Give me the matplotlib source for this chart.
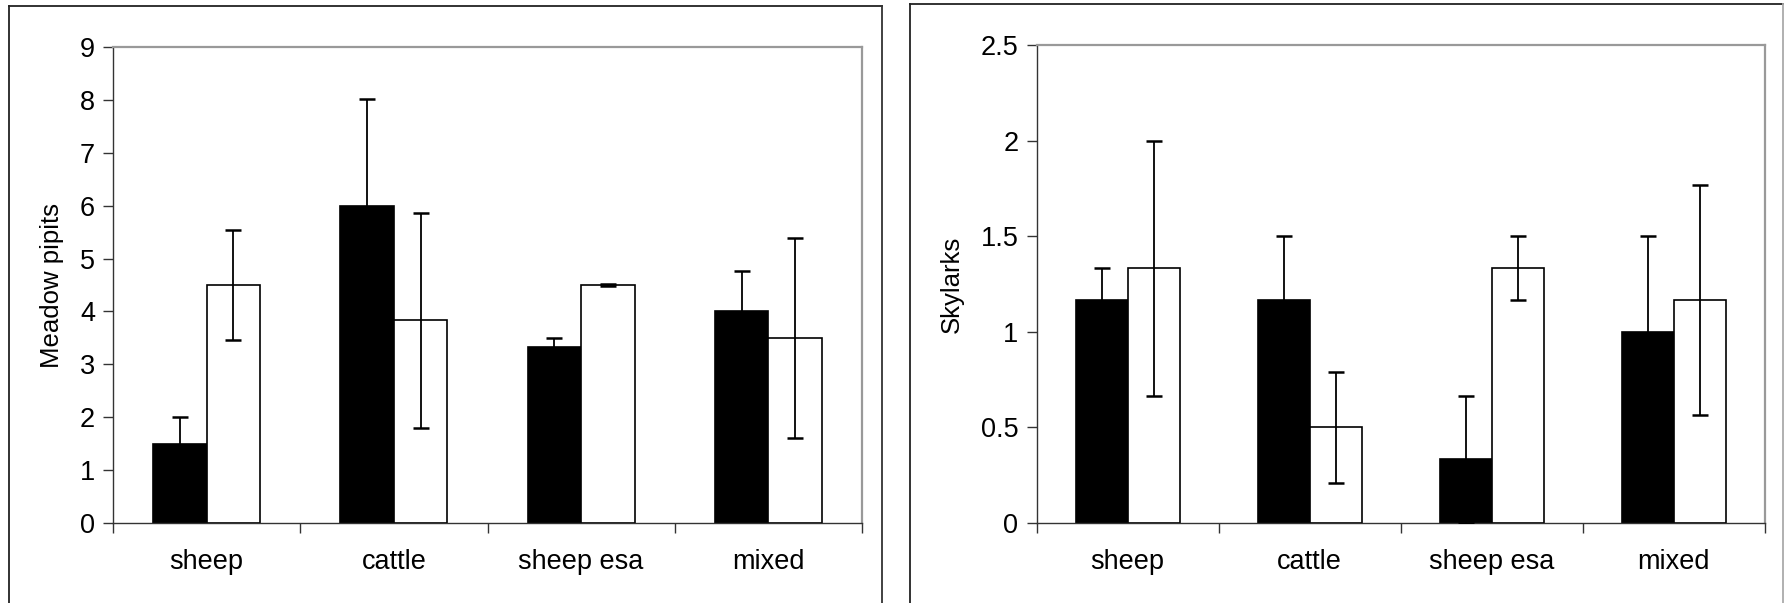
import numpy as np
import matplotlib
matplotlib.use("Agg")
import matplotlib.pyplot as plt
from matplotlib.lines import Line2D
from matplotlib.ticker import FuncFormatter

plt.rcParams['font.family'] = ['Liberation Sans', 'DejaVu Sans']

# ---- datos ----
grupos = ["sheep", "cattle", "sheep esa", "mixed"]

pipits_negro = [1.5, 6.0, 3.33, 4.0]
pipits_negro_err = [0.5, 2.02, 0.17, 0.76]
pipits_blanco = [4.5, 3.83, 4.5, 3.5]
pipits_blanco_err = [1.04, 2.03, 0.02, 1.89]

alondras_negro = [1.167, 1.167, 0.333, 1.0]
alondras_negro_err = [0.167, 0.333, 0.333, 0.5]
alondras_blanco = [1.333, 0.5, 1.333, 1.167]
alondras_blanco_err = [0.667, 0.29, 0.167, 0.6]

W, H = 1785, 603
fig = plt.figure(figsize=(W/100, H/100), dpi=100)


def px(x0, x1, top, bottom):
    # rectangulo en pixeles -> coordenadas de figura
    return [x0/W, (H-bottom)/H, (x1-x0)/W, (bottom-top)/H]


def panel(ax, negro, negro_err, blanco, blanco_err, ymax, ystep, ylabel, label_x):
    n = len(grupos)
    centros = np.arange(n) + 0.5
    ancho = 1/3.5
    ax.bar(centros - ancho/2, negro, ancho, color='black', edgecolor='black', lw=1.2, zorder=2)
    ax.bar(centros + ancho/2, blanco, ancho, color='white', edgecolor='black', lw=1.2, zorder=2)
    ax.errorbar(centros - ancho/2, negro, yerr=negro_err, fmt='none', ecolor='black',
                elinewidth=1.3, capsize=5.5, capthick=1.8, zorder=3)
    ax.errorbar(centros + ancho/2, blanco, yerr=blanco_err, fmt='none', ecolor='black',
                elinewidth=1.3, capsize=5.5, capthick=1.8, zorder=3)

    ax.set_xlim(0, n)
    ax.set_ylim(0, ymax)
    ax.set_yticks(np.arange(0, ymax + ystep/2, ystep))
    ax.yaxis.set_major_formatter(FuncFormatter(lambda v, p: f"{v:g}"))
    ax.set_xticks(np.arange(n + 1))
    ax.set_xticklabels([])
    ax.set_xticks(centros, minor=True)
    ax.set_xticklabels(grupos, minor=True)
    ax.tick_params(axis='x', which='minor', length=0, pad=19, labelsize=19.5)
    ax.tick_params(axis='x', which='major', direction='out', length=7, width=1, color='#333333')
    ax.tick_params(axis='y', direction='out', length=7, width=1, color='#333333', pad=6, labelsize=19.5)

    for s in ['top', 'right']:
        ax.spines[s].set_color('#999999')
        ax.spines[s].set_linewidth(1.6)
    for s in ['left', 'bottom']:
        ax.spines[s].set_color('#333333')
        ax.spines[s].set_linewidth(1.0)

    ax.set_ylabel(ylabel, fontsize=18.5)
    ax.yaxis.set_label_coords(label_x, 0.5)


ax1 = fig.add_axes(px(113, 862, 47, 523))
panel(ax1, pipits_negro, pipits_negro_err, pipits_blanco, pipits_blanco_err,
      9, 1, "Meadow pipits", -0.066)

ax2 = fig.add_axes(px(1036.5, 1765, 45, 523))
panel(ax2, alondras_negro, alondras_negro_err, alondras_blanco, alondras_blanco_err,
      2.5, 0.5, "Skylarks", -0.1)

# marcos de cada grafico
def marco(x0, x1, top, color_der):
    X0, X1 = x0/W, x1/W
    Y = (H-top)/H
    fig.add_artist(Line2D([X0, X0], [0, Y], color='#222222', lw=1.3))
    fig.add_artist(Line2D([X0, X1], [Y, Y], color='#222222', lw=1.3))
    fig.add_artist(Line2D([X1, X1], [0, Y], color=color_der, lw=1.3))

marco(9, 881.5, 5.5, '#333333')
marco(910, 1783, 3.5, '#aaaaaa')

fig.savefig("out.png", dpi=100)
